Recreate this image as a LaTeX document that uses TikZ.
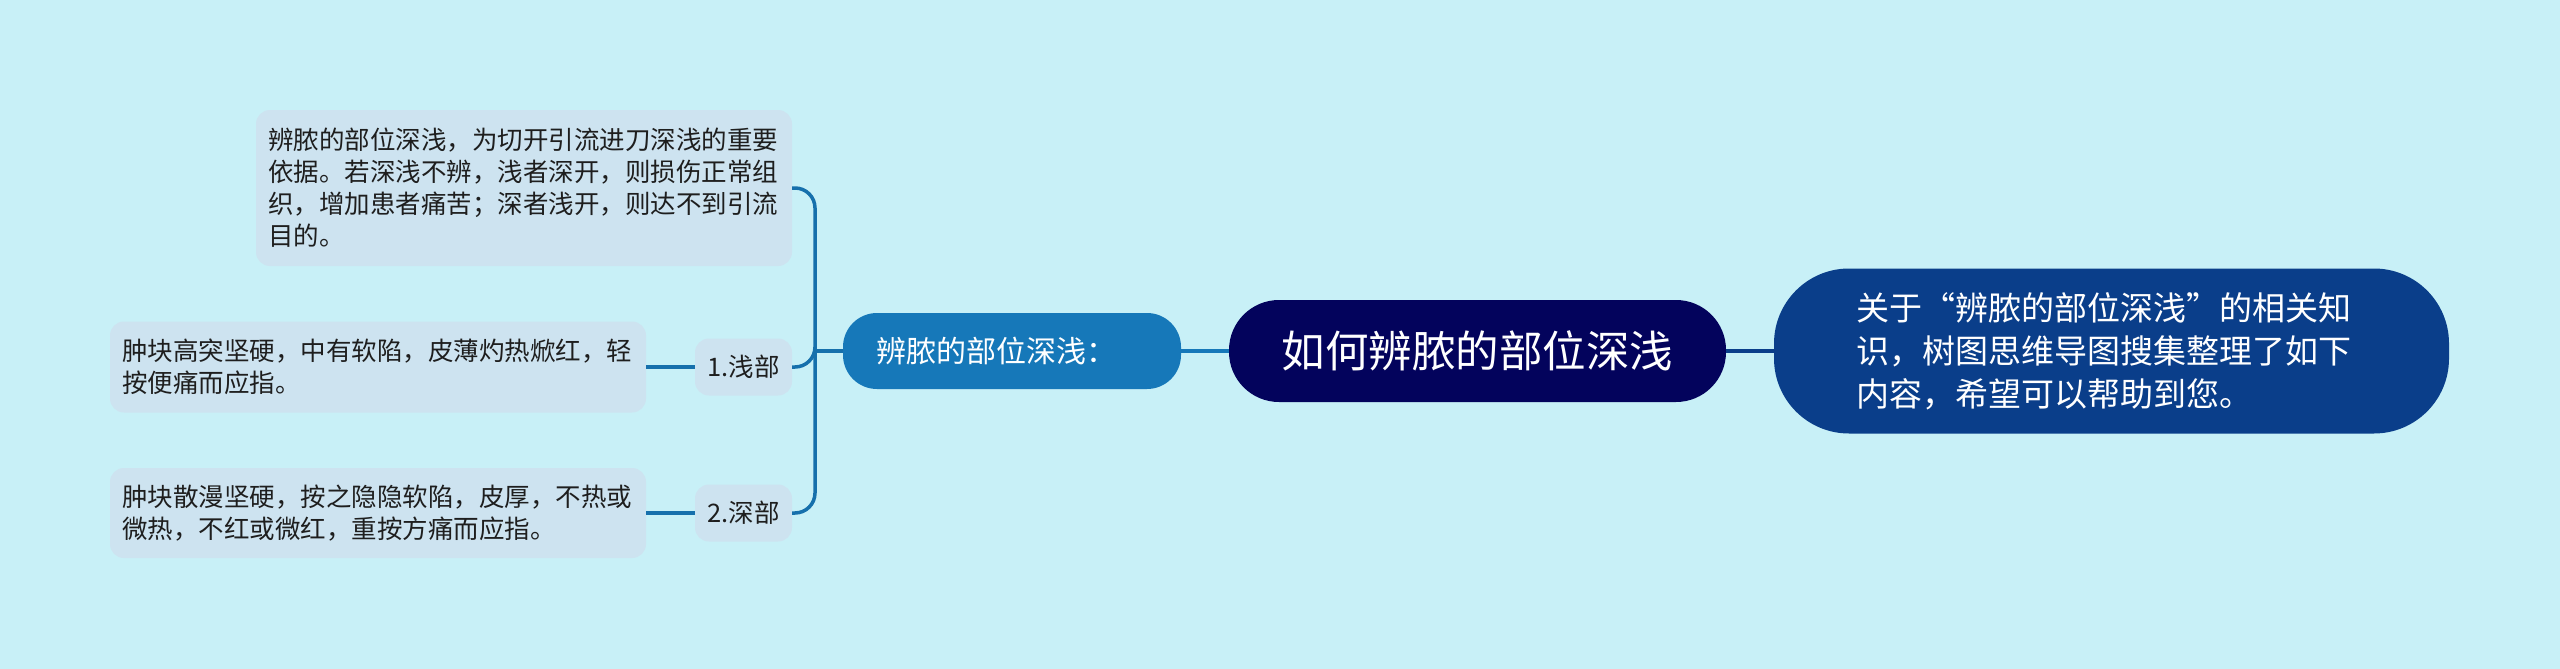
\documentclass[tikz,border=0pt]{standalone}
\usepackage{fontspec}
\setmainfont{Noto Sans CJK SC}
\definecolor{bgc}{RGB}{200,240,247}
\definecolor{boxc}{RGB}{205,227,240}
\definecolor{linec}{RGB}{22,112,172}
\definecolor{mainc}{RGB}{22,120,185}
\definecolor{rootc}{RGB}{3,3,92}
\definecolor{rightc}{RGB}{10,62,138}
\definecolor{txtc}{RGB}{30,30,30}
\tikzset{
  leafbox/.style={fill=boxc, rounded corners=14pt, text=txtc, inner xsep=12pt, inner ysep=0pt,
    font=\fontsize{25.5}{32}\selectfont, align=left, text width=512pt},
  tagbox/.style={fill=boxc, rounded corners=14pt, text=txtc, inner sep=0pt,
    font=\fontsize{25.5}{32}\selectfont, minimum width=97pt, minimum height=57pt},
  conn/.style={draw=linec, line width=3.5pt, rounded corners=20pt},
}
\begin{document}
\begin{tikzpicture}[x=1pt,y=-1pt]
\useasboundingbox[fill=bgc] (0,0) rectangle (2560,669);
% main nodes
\node[fill=rootc, text=white, rounded corners=50pt, minimum width=497pt, minimum height=102pt,
  inner sep=0pt, font=\fontsize{43.5}{50}\selectfont] (root) at (1477.5,351) {如何辨脓的部位深浅};
\node[fill=rightc, text=white, rounded corners=75pt, minimum width=675pt, minimum height=165pt,
  inner sep=0pt, text width=511pt, align=left, font=\fontsize{33}{43}\selectfont] (right) at (2111.5,351)
  {关于“辨脓的部位深浅”的相关知\\识，树图思维导图搜集整理了如下\\内容，希望可以帮助到您。};
\node[fill=mainc, text=white, rounded corners=34pt, minimum width=338pt, minimum height=76pt,
  inner sep=0pt, text width=272pt, align=left, font=\fontsize{30}{36}\selectfont] (lmain) at (1012,351)
  {辨脓的部位深浅：};
% children
\node[leafbox, minimum height=156pt] (top) at (524,188)
  {辨脓的部位深浅，为切开引流进刀深浅的重要\\依据。若深浅不辨，浅者深开，则损伤正常组\\织，增加患者痛苦；深者浅开，则达不到引流\\目的。};
\node[tagbox] (shallow) at (743.5,367) {1.浅部};
\node[tagbox] (deep) at (743.5,513) {2.深部};
\node[leafbox, minimum height=91pt] (mid) at (378,367)
  {肿块高突坚硬，中有软陷，皮薄灼热焮红，轻\\按便痛而应指。};
\node[leafbox, minimum height=90pt] (bot) at (378,513)
  {肿块散漫坚硬，按之隐隐软陷，皮厚，不热或\\微热，不红或微红，重按方痛而应指。};
% connectors
\coordinate (jn) at (815,351);
\draw[draw=linec, line width=3.5pt] (lmain.west) -- (jn);
\draw[conn] (jn) |- (top.east);
\draw[conn] (jn) |- (shallow.east);
\draw[conn] (jn) |- (deep.east);
\draw[draw=linec, line width=3.5pt] (shallow.west) -- (mid.east);
\draw[draw=linec, line width=3.5pt] (deep.west) -- (bot.east);
\draw[draw=mainc, line width=3.5pt] (lmain.east) -- (root.west);
\draw[draw=rightc, line width=3.5pt] (root.east) -- (right.west);
\end{tikzpicture}
\end{document}
